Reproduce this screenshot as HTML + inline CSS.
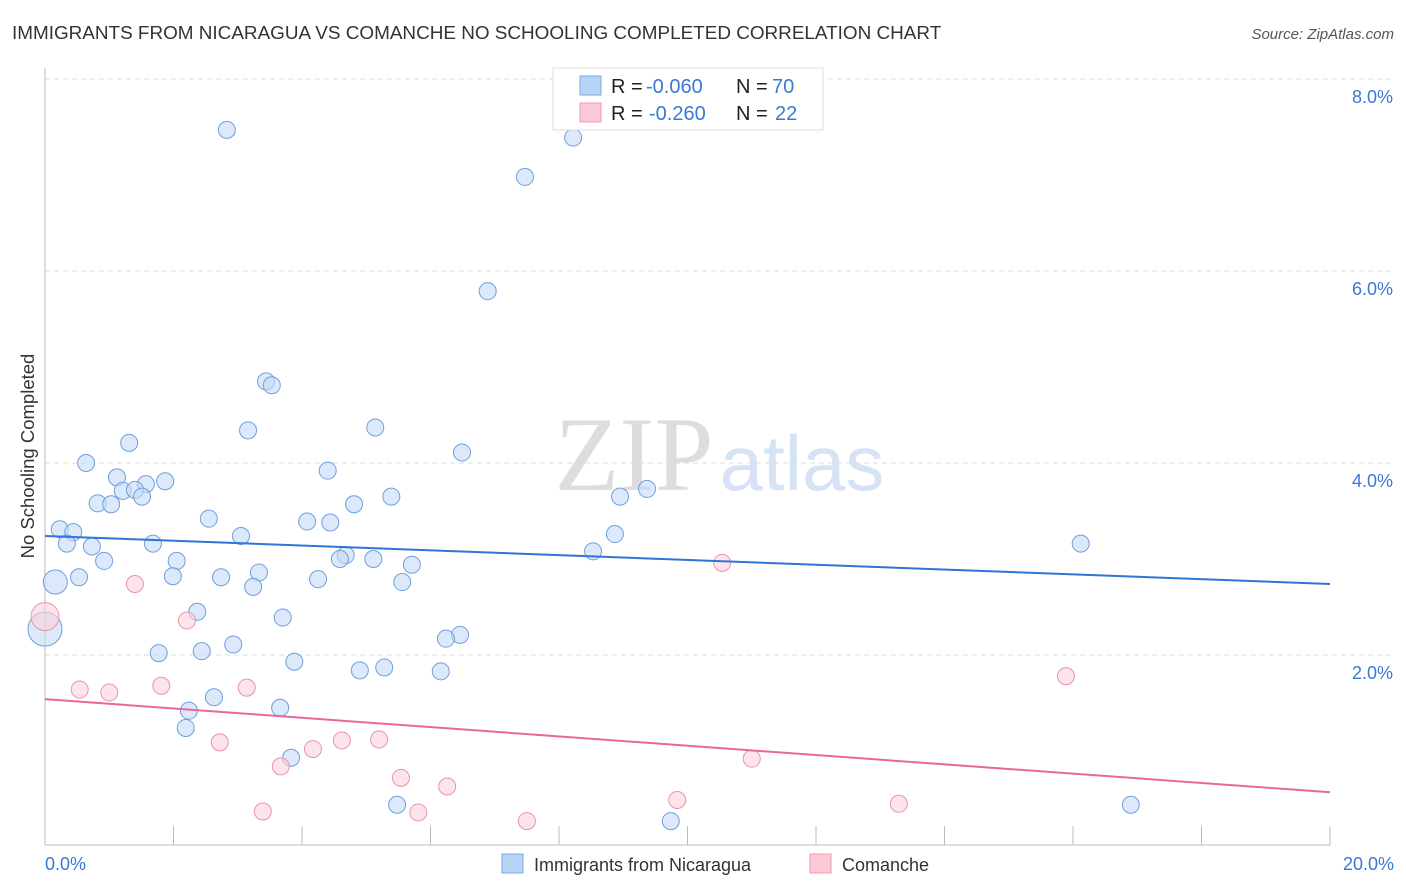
<!DOCTYPE html>
<html><head><meta charset="utf-8"><style>
body{margin:0;background:#fff;font-family:"Liberation Sans",sans-serif;}
svg{display:block}
</style></head><body>
<svg id="chart" width="1406" height="892" xmlns="http://www.w3.org/2000/svg">
<text x="12" y="39" font-size="18.9" fill="#333">IMMIGRANTS FROM NICARAGUA VS COMANCHE NO SCHOOLING COMPLETED CORRELATION CHART</text>
<text x="1394" y="39" font-size="15" fill="#555" font-style="italic" text-anchor="end">Source: ZipAtlas.com</text>
<text x="634" y="490" font-size="106" fill="#ddd" font-family="Liberation Serif" text-anchor="middle">ZIP</text>
<text x="802" y="490" font-size="78" fill="#d5e3f5" text-anchor="middle">atlas</text>
<g id="grid"></g><g id="axes"></g><g id="marks"></g>
<text transform="translate(34,456) rotate(-90)" font-size="18.5" fill="#333" text-anchor="middle">No Schooling Completed</text>
<g>
<rect x="553" y="68" width="270" height="62" fill="#fff" stroke="#ddd"/>
<rect x="580" y="76" width="21" height="19" fill="#b9d3f5" stroke="#7aa8e6"/>
<rect x="580" y="103" width="21" height="19" fill="#fbcad7" stroke="#f09ab0"/>
<text x="611" y="93" font-size="20" fill="#222">R =</text>
<text x="646" y="93" font-size="20" fill="#3a78d6">-0.060</text>
<text x="736" y="93" font-size="20" fill="#222">N =</text>
<text x="772" y="93" font-size="20" fill="#3a78d6">70</text>
<text x="611" y="120" font-size="20" fill="#222">R =</text>
<text x="649" y="120" font-size="20" fill="#3a78d6">-0.260</text>
<text x="736" y="120" font-size="20" fill="#222">N =</text>
<text x="775" y="120" font-size="20" fill="#3a78d6">22</text>
</g>
<g>
<rect x="502" y="854" width="21" height="19" fill="#b9d3f5" stroke="#7aa8e6"/>
<text x="534" y="871" font-size="18" fill="#333">Immigrants from Nicaragua</text>
<rect x="810" y="854" width="21" height="19" fill="#fbcad7" stroke="#f09ab0"/>
<text x="842" y="871" font-size="18" fill="#333">Comanche</text>
</g>
</svg>
<script>
const yTicks=[2,4,6,8];
const xTickLabels=["0.0%","20.0%"];
const blueX=[2.83,8.22,7.47,6.89,3.44,3.53,3.16,5.14,1.31,6.49,0.64,4.40,1.12,1.87,1.57,1.21,1.40,1.51,0.82,1.03,4.81,5.39,8.95,9.37,0.23,0.44,2.55,4.08,4.44,0.34,0.73,1.68,3.05,8.87,8.53,16.12,0.92,2.05,4.68,4.59,5.11,5.71,0.16,0.53,1.99,2.74,3.33,4.25,5.56,3.24,2.37,3.70,0,6.46,6.24,2.93,1.77,2.44,3.88,4.90,5.28,6.16,2.63,2.24,3.66,2.19,3.83,5.48,9.74,16.90];
const blueY=[7.47,7.39,6.98,5.79,4.85,4.81,4.34,4.37,4.21,4.11,4.00,3.92,3.85,3.81,3.78,3.71,3.72,3.65,3.58,3.57,3.57,3.65,3.65,3.73,3.31,3.28,3.42,3.39,3.38,3.16,3.13,3.16,3.24,3.26,3.08,3.16,2.98,2.98,3.04,3.00,3.00,2.94,2.76,2.81,2.82,2.81,2.86,2.79,2.76,2.71,2.45,2.39,2.27,2.21,2.17,2.11,2.02,2.04,1.93,1.84,1.87,1.83,1.56,1.42,1.45,1.24,0.93,0.44,0.27,0.44];
const pinkX=[0,0.54,1.00,1.40,1.81,2.21,2.72,3.14,3.67,3.39,4.17,4.62,5.20,5.54,5.81,6.26,7.50,9.84,10.54,11.00,13.29,15.89];
const pinkY=[2.40,1.64,1.61,2.74,1.68,2.36,1.09,1.66,0.84,0.37,1.02,1.11,1.12,0.72,0.36,0.63,0.27,0.49,2.96,0.92,0.45,1.78];
const blueTrend=[3.24,2.74];
const pinkTrend=[1.54,0.57];
const NS="http://www.w3.org/2000/svg";
const X=v=>45+v*64.25, Y=v=>847-v*96;
function mk(tag,parent,attrs){const e=document.createElementNS(NS,tag);for(const k in attrs)e.setAttribute(k,attrs[k]);document.getElementById(parent).appendChild(e);return e;}
yTicks.forEach(t=>{
 const l=mk('line','grid',{x1:45,x2:1394,y1:Y(t),y2:Y(t),stroke:'#ddd','stroke-dasharray':'5,4'});
 
 
 const tx=mk('text','grid',{x:1393,y:Y(t)+24,'font-size':18,fill:'#3a78d6','text-anchor':'end'});
 tx.textContent=t.toFixed(1)+'%';
 
 
});
const ax=mk('line','axes',{x1:45,x2:45,y1:68,y2:845,stroke:'#bbb'});


const bx=mk('line','axes',{x1:45,x2:1330,y1:845,y2:845,stroke:'#bbb'});


for(let i=0;i<=10;i++){
 const t=mk('line','axes',{x1:X(i*2),x2:X(i*2),y1:826,y2:845,stroke:'#bbb'});
 
 
}
[[0,45,'start'],[20,1394,'end']].forEach((a,i)=>{
 const t=mk('text','axes',{x:a[1],y:870,'font-size':18,fill:'#3a78d6','text-anchor':a[2]});
 t.textContent=xTickLabels[i];
 
 
});
function dots(xs,ys,fill,stroke,name,big){
 xs.forEach((v,i)=>{
  const r=big[i]||8.5;
  const c=mk('circle','marks',{cx:X(v),cy:Y(ys[i]),r:r,fill:fill,'fill-opacity':0.6,stroke:stroke,'stroke-width':1});
  
  
 });
}
dots(blueX,blueY,'#c5dbf6','#6f9fdf','point-nicaragua',{42:12,52:17});
dots(pinkX,pinkY,'#fbd0dc','#eb93ab','point-comanche',{0:14});
const bl=mk('line','marks',{x1:X(0),x2:X(20),y1:Y(blueTrend[0]),y2:Y(blueTrend[1]),stroke:'#2f74d8','stroke-width':2});


const pl=mk('line','marks',{x1:X(0),x2:X(20),y1:Y(pinkTrend[0]),y2:Y(pinkTrend[1]),stroke:'#e8679a','stroke-width':2});


</script>
</body></html>
